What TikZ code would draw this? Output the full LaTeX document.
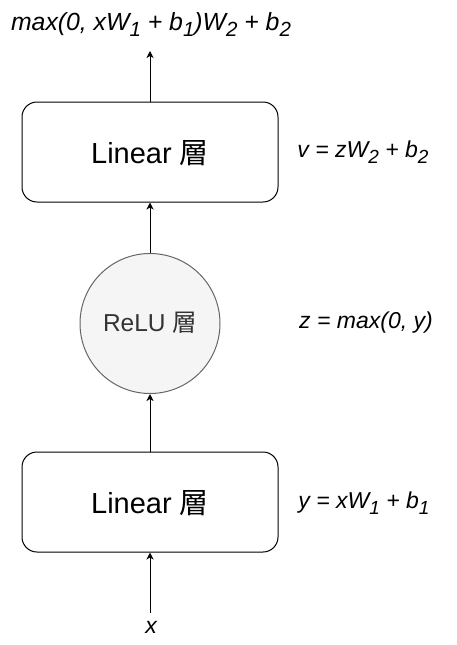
\documentclass[tikz,border=0pt]{standalone}
\usepackage{fontspec}
\setmainfont{Liberation Sans}
\newfontfamily\cjk{Noto Sans CJK JP}
\usetikzlibrary{arrows.meta}
\definecolor{circfill}{HTML}{F5F5F5}
\definecolor{circdraw}{HTML}{666666}
\definecolor{circtext}{HTML}{333333}
\newcommand{\sbs}[1]{\raisebox{-0.28em}{\fontsize{19}{19}\selectfont #1}}
\newcommand{\sbt}[1]{\raisebox{-0.28em}{\fontsize{20.5}{20.5}\selectfont #1}}
\begin{document}
\begin{tikzpicture}[x=1pt,y=-1pt,
  layerbox/.style={draw=black,line width=1pt,rounded corners=15pt,minimum width=256pt,minimum height=100pt,inner sep=0pt,text height=22pt,text depth=0pt,font=\fontsize{29}{34}\selectfont},
  relubox/.style={circle,draw=circdraw,fill=circfill,line width=1pt,minimum size=140pt,inner sep=0pt,text=circtext,text height=15pt,text depth=0pt,font=\fontsize{24.5}{30}\selectfont},
  eqlabel/.style={anchor=base,inner sep=0pt,font=\fontsize{23}{28}\selectfont\itshape},
  arr/.style={-{Stealth[length=7pt,width=7pt,inset=2pt]},line width=1pt}
]
\useasboundingbox (0,0) rectangle (456,645);
\node[layerbox] (lin2) at (150,152) {Linear {\cjk 層}};
\node[relubox] (relu) at (150,323.5) {ReLU {\cjk 層}};
\node[layerbox] (lin1) at (150,502) {Linear {\cjk 層}};
\coordinate (out) at (150,51);
\coordinate (in) at (150,613);
\draw[arr] (lin2.north) -- (out);
\draw[arr] (relu.north) -- (lin2.south);
\draw[arr] (lin1.north) -- (relu.south);
\draw[arr] (in) -- (lin1.south);
\node[eqlabel,font=\fontsize{24.8}{30}\selectfont\itshape] (top) at (151,30) {max(0, xW\sbt{1} + b\sbt{1})W\sbt{2} + b\sbt{2}};
\node[eqlabel] (veq) at (363,157) {v = zW\sbs{2} + b\sbs{2}};
\node[eqlabel] (zeq) at (366,328) {z = max(0, y)};
\node[eqlabel] (yeq) at (364,508) {y = xW\sbs{1} + b\sbs{1}};
\node[eqlabel] (xin) at (151,633) {x};
\end{tikzpicture}
\end{document}
